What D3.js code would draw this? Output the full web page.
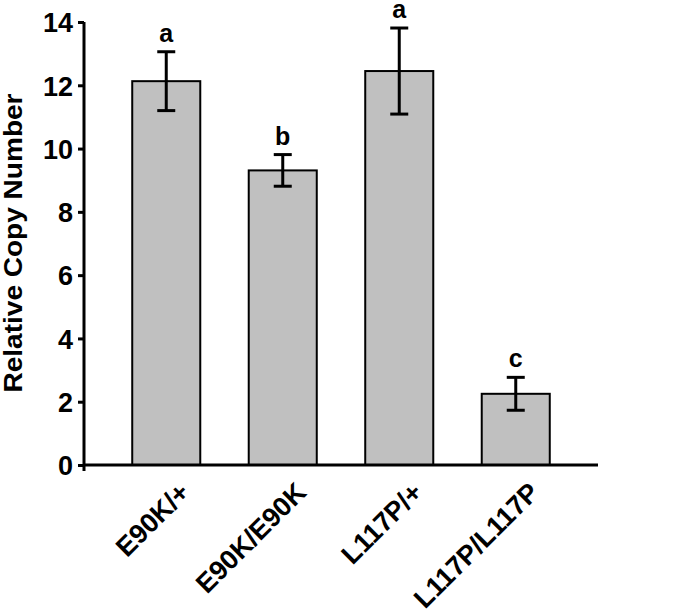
<!DOCTYPE html>
<html>
<head>
<meta charset="utf-8">
<script src="https://cdn.jsdelivr.net/npm/d3@7"></script>
<style>
  body { margin: 0; background: #fff; }
  svg text { font-family: "Liberation Sans", Arial, sans-serif; font-weight: bold; fill: #000; }
</style>
</head>
<body>
<div id="chart"></div>
<script>
// data
var genotypes = ["E90K/+", "E90K/E90K", "L117P/+", "L117P/L117P"];
var copyNumber = [12.13, 9.31, 12.45, 2.25];
var errors = [0.93, 0.5, 1.36, 0.52];
var groups = ["a", "b", "a", "c"];
var yTicks = [0, 2, 4, 6, 8, 10, 12, 14];

var width = 700, height = 615;
var svg = d3.select("#chart").append("svg").attr("width", width).attr("height", height);

// scales
var y = d3.scaleLinear().domain([0, 14]).range([465, 22]);
var x = d3.scaleBand().domain(genotypes).range([84, 598]).paddingInner(0.416).paddingOuter(0.414);

// bars
svg.selectAll("rect.bar")
  .data(copyNumber)
  .enter()
  .append("rect")
  .attr("class", "bar")
  .attr("x", function(d, i) { return x(genotypes[i]); })
  .attr("y", function(d) { return y(d); })
  .attr("width", x.bandwidth())
  .attr("height", function(d) { return y(0) - y(d); })
  .attr("fill", "#c0c0c0")
  .attr("stroke", "#000")
  .attr("stroke-width", 2);

// error bars
var eb = svg.selectAll("g.err")
  .data(copyNumber)
  .enter()
  .append("g")
  .attr("class", "err")
  .attr("transform", function(d, i) { return "translate(" + (x(genotypes[i]) + x.bandwidth() / 2) + ",0)"; });

eb.append("line")
  .attr("y1", function(d, i) { return y(d + errors[i]); })
  .attr("y2", function(d, i) { return y(d - errors[i]); })
  .attr("stroke", "#000").attr("stroke-width", 3);
eb.append("line")
  .attr("x1", -9).attr("x2", 9)
  .attr("y1", function(d, i) { return y(d + errors[i]); })
  .attr("y2", function(d, i) { return y(d + errors[i]); })
  .attr("stroke", "#000").attr("stroke-width", 3);
eb.append("line")
  .attr("x1", -9).attr("x2", 9)
  .attr("y1", function(d, i) { return y(d - errors[i]); })
  .attr("y2", function(d, i) { return y(d - errors[i]); })
  .attr("stroke", "#000").attr("stroke-width", 3);

// significance letters
eb.append("text")
  .attr("y", function(d, i) { return y(d + errors[i]) - 10; })
  .attr("text-anchor", "middle")
  .style("font-size", "25px")
  .text(function(d, i) { return groups[i]; });

// y axis
var yAxis = svg.append("g")
  .attr("transform", "translate(84,0)")
  .call(d3.axisLeft(y).tickValues(yTicks).tickSize(6).tickSizeOuter(0).tickPadding(5));
yAxis.select(".domain").attr("stroke-width", 3).attr("d", "M0," + (y(0) + 6) + "V" + y(14));
yAxis.selectAll(".tick line").attr("stroke-width", 3);
yAxis.selectAll(".tick text").style("font-size", "27px").attr("dy", "0.36em");

// x axis line
svg.append("line")
  .attr("x1", x.range()[0]).attr("x2", x.range()[1])
  .attr("y1", y(0)).attr("y2", y(0))
  .attr("stroke", "#000").attr("stroke-width", 3);

// x labels, rotated
svg.selectAll("text.xlab")
  .data(genotypes)
  .enter()
  .append("text")
  .attr("class", "xlab")
  .attr("text-anchor", "end")
  .style("font-size", "27px")
  .attr("transform", function(d) {
    return "translate(" + (x(d) + x.bandwidth() / 2 + 25) + ",494) rotate(-45)";
  })
  .text(function(d) { return d; });

// y label
svg.append("text")
  .attr("text-anchor", "middle")
  .style("font-size", "25px")
  .attr("textLength", 299)
  .attr("lengthAdjust", "spacingAndGlyphs")
  .attr("transform", "translate(22,243) rotate(-90)")
  .text("Relative Copy Number");
</script>
</body>
</html>
